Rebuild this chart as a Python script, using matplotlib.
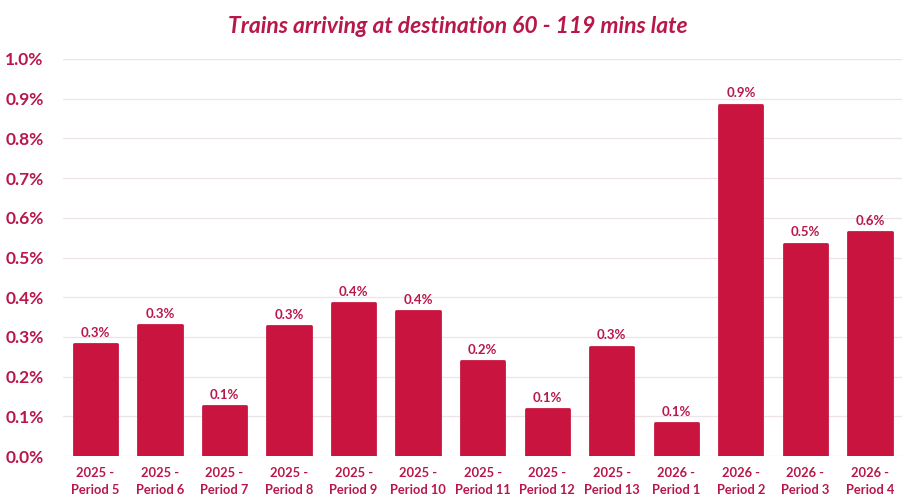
import matplotlib
matplotlib.use("Agg")
import matplotlib.pyplot as plt
from matplotlib.ticker import FuncFormatter, MultipleLocator

# Data
periods = [
    "2025 -\nPeriod 5", "2025 -\nPeriod 6", "2025 -\nPeriod 7", "2025 -\nPeriod 8",
    "2025 -\nPeriod 9", "2025 -\nPeriod 10", "2025 -\nPeriod 11", "2025 -\nPeriod 12",
    "2025 -\nPeriod 13", "2026 -\nPeriod 1", "2026 -\nPeriod 2", "2026 -\nPeriod 3",
    "2026 -\nPeriod 4",
]
late_pct = [0.282, 0.330, 0.126, 0.327, 0.385, 0.365, 0.239, 0.118,
            0.275, 0.083, 0.884, 0.534, 0.564]
title = "Trains arriving at destination 60 - 119 mins late"

BAR = "#C8143F"
TEXT = "#B8174A"
GRID = "#EDE4E7"

plt.rcParams["font.family"] = ["Lato", "DejaVu Sans"]

fig = plt.figure(figsize=(9.15, 5.04), dpi=100)
ax = fig.add_axes([0.069, 0.095, 0.917, 0.788])

x = list(range(len(periods)))
# thin stroke with round joins gives the slightly rounded bar corners
bars = ax.bar(x, late_pct, width=0.67, color=BAR, edgecolor=BAR,
              linewidth=2, zorder=3)
for b in bars:
    b.set_joinstyle("round")

for xi, v in zip(x, late_pct):
    ax.annotate(f"{v:.1f}%", (xi, v), xytext=(0, 4), textcoords="offset points",
                ha="center", va="bottom", fontsize=9.5, fontweight="bold", color=TEXT)

ax.set_ylim(0, 1.0)
ax.set_xlim(-0.5, len(periods) - 0.5)
ax.yaxis.set_major_locator(MultipleLocator(0.1))
ax.yaxis.set_major_formatter(FuncFormatter(lambda v, _: f"{v:.1f}%"))
ax.set_xticks(x)
ax.set_xticklabels(periods, fontsize=9.3, fontweight="bold", color=TEXT, linespacing=1.45)
for lbl in ax.get_yticklabels():
    lbl.set_fontsize(12.5)
    lbl.set_fontweight("bold")
    lbl.set_color(TEXT)

ax.tick_params(axis="both", length=0)
ax.tick_params(axis="y", pad=14)
ax.tick_params(axis="x", pad=8)
ax.grid(axis="y", color=GRID, linewidth=0.9, zorder=0)
for s in ax.spines.values():
    s.set_visible(False)

fig.text(0.5, 0.948, title, ha="center", va="center", fontsize=16.5,
         fontweight="bold", fontstyle="italic", color=TEXT)

fig.savefig("out.png", dpi=100)
